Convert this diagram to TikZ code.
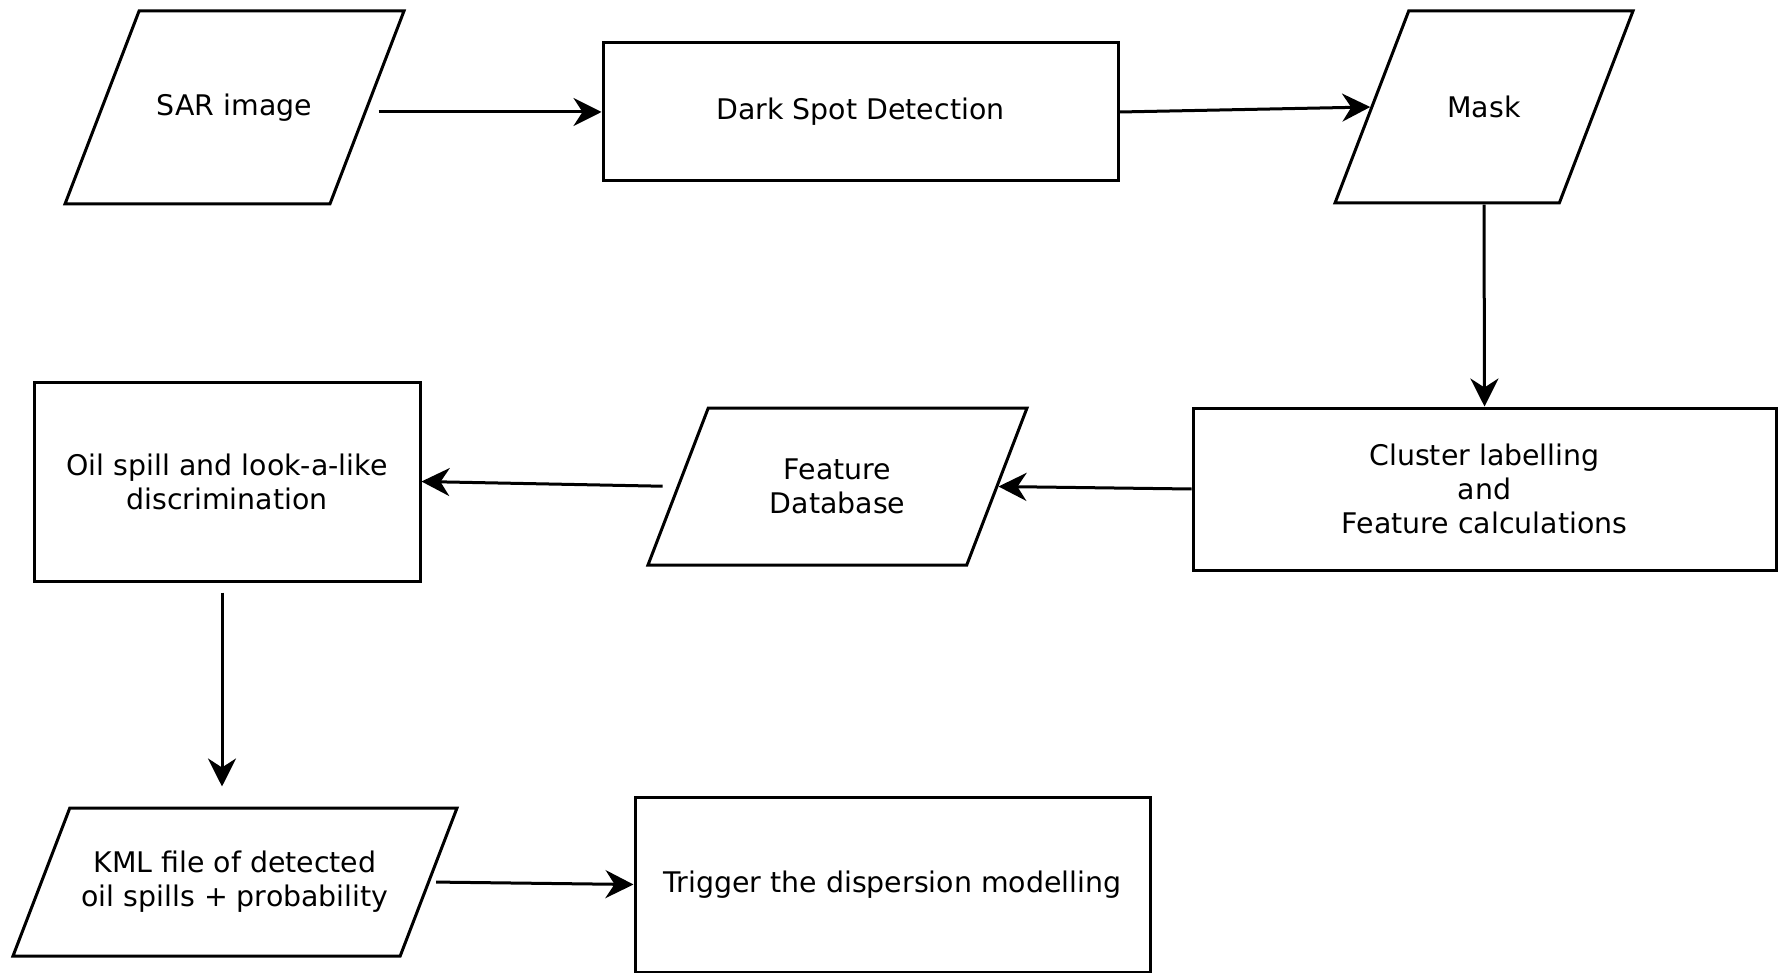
\documentclass[tikz,border=0pt]{standalone}
\usepackage{fontspec}
\setmainfont{DejaVu Sans}
\usetikzlibrary{shapes.geometric,arrows.meta}
\begin{document}
\begin{tikzpicture}[x=0.5pt,y=-0.5pt,
  every node/.style={font=\fontsize{14.2pt}{17pt}\selectfont, align=center, inner sep=0pt},
  procbox/.style 2 args={draw, line width=1.5pt, rectangle, minimum width=#1, minimum height=#2},
  iobox/.style 2 args={draw, line width=1.5pt, trapezium, trapezium stretches body=true,
    trapezium left angle=69, trapezium right angle=111, inner xsep=0pt, inner ysep=#2/2,
    minimum width=#1, minimum height=#2},
  arr/.style={line width=1.5pt, -{Stealth[length=14pt,width=14pt,inset=4.5pt]}}
]
\useasboundingbox (0,0) rectangle (1783,973);
% input/output parallelograms (shape) and their texts
\node[iobox={169.5pt}{96.5pt}] (sar) at (234.5,107.5) {};
\node (sartext) at (sar.center) {SAR image};
\node[iobox={149pt}{96pt}] (mask) at (1484,107) {};
\node (masktext) at (mask.center) {Mask};
\node[iobox={189.5pt}{78.5pt}] (fdb) at (837.5,486.5) {};
\node (fdbtext) at (fdb.center) {Feature\\Database};
\node[iobox={222pt}{74pt}] (kml) at (235,882) {};
\node (kmltext) at (kml.center) {KML file of detected\\oil spills + probability};
% process boxes
\node[procbox={257.5pt}{69pt}] (dark) at (860.5,112) {Dark Spot Detection};
\node[procbox={291.5pt}{81pt}] (cluster) at (1484.5,489) {Cluster labelling\\and\\Feature calculations};
\node[procbox={193pt}{99.5pt}] (oil) at (227,481.5) {Oil spill and look-a-like\\discrimination};
\node[procbox={257.5pt}{87.5pt}] (trig) at (892.5,884.5) {Trigger the dispersion modelling};

\draw[arr, shorten <=5pt] (sar.east |- dark.west) -- (dark.west);
\draw[arr] (dark.east) -- (mask.west);
\draw[arr] (mask.south) -- (cluster.north);
\draw[arr] (cluster.west) -- (fdb.east);
\draw[arr, shorten <=7pt] (fdb.west) -- (oil.east);
\draw[arr, shorten <=5pt, shorten >=10pt] ([xshift=-2.5pt]oil.south) -- ([xshift=-2.5pt]oil.south |- kml.north);
\draw[arr, shorten <=3pt] (kml.east) -- (trig.west);
\end{tikzpicture}
\end{document}
